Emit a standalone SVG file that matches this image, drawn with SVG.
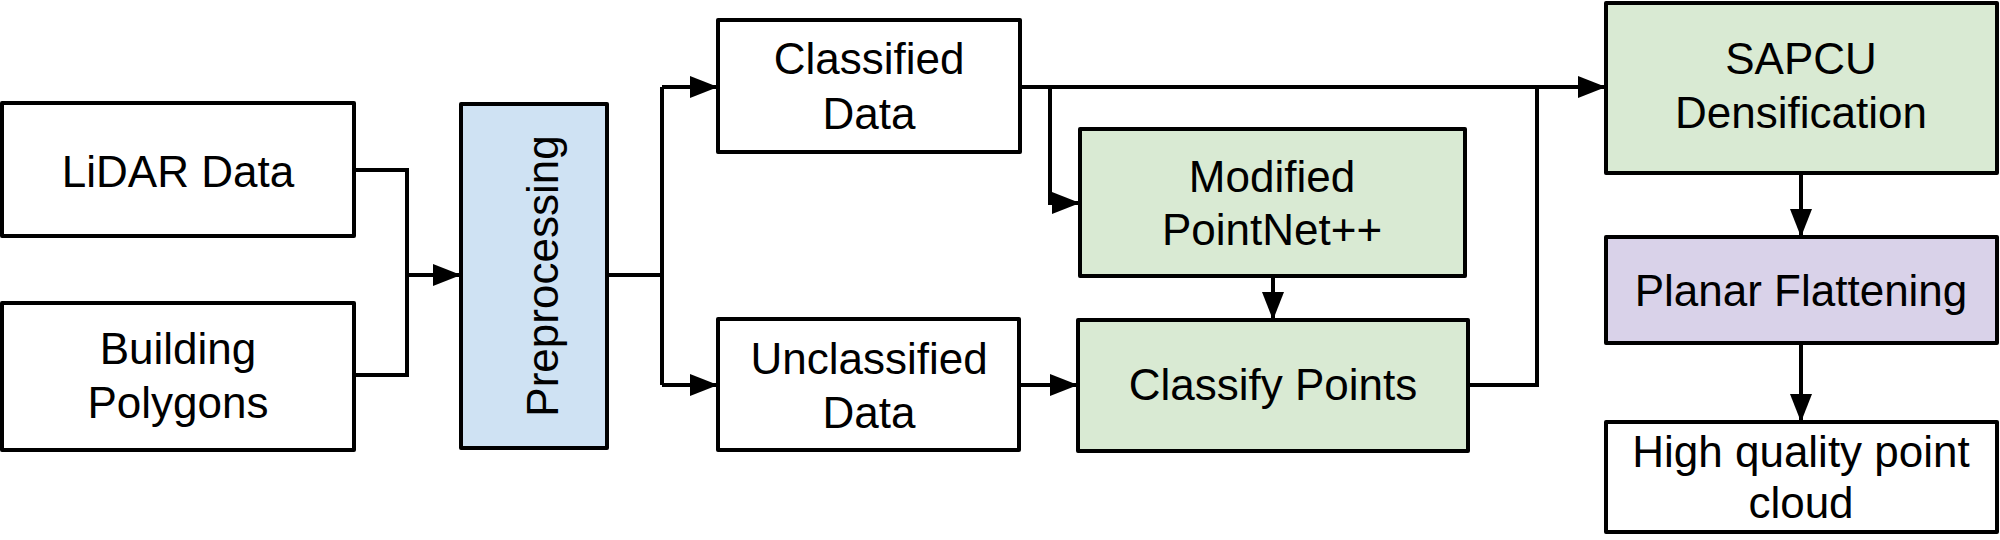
<svg xmlns="http://www.w3.org/2000/svg" width="2000" height="540" viewBox="0 0 2000 540">
<style>
.box{stroke:#000;stroke-width:4;stroke-linejoin:round}
.w{fill:#fff}.g{fill:#d9ead3}.b{fill:#cfe2f3}.p{fill:#d9d2e9}
.t{font-family:"Liberation Sans",Arial,sans-serif;font-size:44px;fill:#000;text-anchor:middle}
.c{fill:none;stroke:#000;stroke-width:4}
</style>
<defs>
<marker id="ah" markerUnits="userSpaceOnUse" markerWidth="30" markerHeight="24" refX="28" refY="11" orient="auto">
<path d="M0,0 L28,11 L0,22 Z" fill="#000"/>
</marker>
</defs>
<rect width="2000" height="540" fill="#fff"/>
<g id="connectors">
<path class="c" d="M354,170 H407 V375 H354"/>
<path class="c" d="M407,275 H461" marker-end="url(#ah)"/>
<path class="c" d="M607,275 H662"/>
<path class="c" d="M662,87 V385"/>
<path class="c" d="M662,87 H718" marker-end="url(#ah)"/>
<path class="c" d="M662,385 H718" marker-end="url(#ah)"/>
<path class="c" d="M1020,87 H1606" marker-end="url(#ah)"/>
<path class="c" d="M1050,87 V203 H1080" marker-end="url(#ah)"/>
<path class="c" d="M1273,276 V320" marker-end="url(#ah)"/>
<path class="c" d="M1019,385 H1078" marker-end="url(#ah)"/>
<path class="c" d="M1468,385 H1537 V87"/>
<path class="c" d="M1801,173 V237" marker-end="url(#ah)"/>
<path class="c" d="M1801,343 V422" marker-end="url(#ah)"/>
</g>
<g id="lidar"><rect class="box w" x="2" y="103" width="352" height="133"/><text class="t" x="178" y="187">LiDAR Data</text></g>
<g id="building"><rect class="box w" x="2" y="303" width="352" height="147"/><text class="t" x="178" y="364">Building</text><text class="t" x="178" y="418">Polygons</text></g>
<g id="preprocessing"><rect class="box b" x="461" y="104" width="146" height="344"/><text class="t" x="558" y="276" transform="rotate(-90 558 276)">Preprocessing</text></g>
<g id="classified"><rect class="box w" x="718" y="20" width="302" height="132"/><text class="t" x="869" y="74">Classified</text><text class="t" x="869" y="129">Data</text></g>
<g id="unclassified"><rect class="box w" x="718" y="319" width="301" height="131"/><text class="t" x="869" y="374">Unclassified</text><text class="t" x="869" y="428">Data</text></g>
<g id="pointnet"><rect class="box g" x="1080" y="129" width="385" height="147"/><text class="t" x="1272" y="192">Modified</text><text class="t" x="1272" y="245">PointNet++</text></g>
<g id="classify"><rect class="box g" x="1078" y="320" width="390" height="131"/><text class="t" x="1273" y="400">Classify Points</text></g>
<g id="sapcu"><rect class="box g" x="1606" y="3" width="391" height="170"/><text class="t" x="1801" y="74">SAPCU</text><text class="t" x="1801" y="128">Densification</text></g>
<g id="planar"><rect class="box p" x="1606" y="237" width="391" height="106"/><text class="t" x="1801" y="306">Planar Flattening</text></g>
<g id="output"><rect class="box w" x="1606" y="422" width="391" height="110"/><text class="t" x="1801" y="467">High quality point</text><text class="t" x="1801" y="518">cloud</text></g>
</svg>
